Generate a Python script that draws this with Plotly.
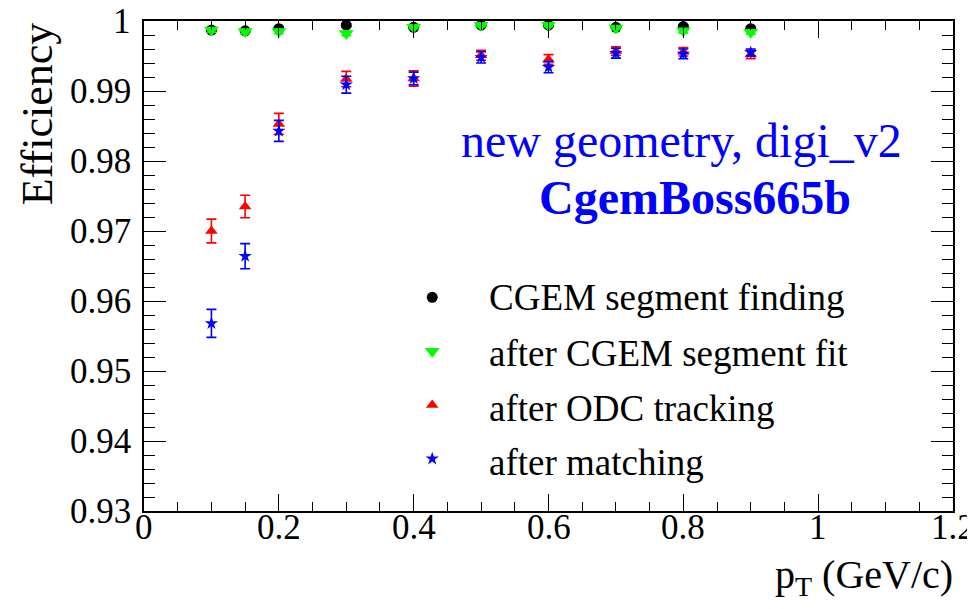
import plotly.graph_objects as go

pt = [0.1, 0.15, 0.2, 0.3, 0.4, 0.5, 0.6, 0.7, 0.8, 0.9]

seg_find = [0.9987, 0.9986, 0.9989, 0.9994, 0.9991, 0.9994, 0.9994, 0.9991, 0.9992, 0.9989]
seg_find_err = [0.0002, 0.0002, 0.0002, 0.0002, 0.0002, 0.0002, 0.0002, 0.0002, 0.0002, 0.0002]

seg_fit = [0.9987, 0.9985, 0.9985, 0.9982, 0.9991, 0.9994, 0.9994, 0.9990, 0.9986, 0.9984]
seg_fit_err = [0.0003, 0.0003, 0.0003, 0.0003, 0.0002, 0.0002, 0.0002, 0.0002, 0.0003, 0.0003]

odc = [0.9700, 0.9735, 0.9853, 0.9917, 0.9918, 0.9951, 0.9945, 0.9957, 0.9956, 0.9952]
odc_err = [0.0017, 0.0016, 0.0015, 0.0011, 0.0011, 0.0007, 0.0007, 0.0006, 0.0006, 0.0006]

match = [0.9568, 0.9664, 0.9843, 0.9909, 0.9918, 0.9948, 0.9934, 0.9954, 0.9953, 0.9955]
match_err = [0.0020, 0.0018, 0.0015, 0.0012, 0.0009, 0.0008, 0.0008, 0.0007, 0.0007, 0.0005]

x_tickvals = [0, 0.2, 0.4, 0.6, 0.8, 1.0, 1.2]
x_ticklabels = ["0", "0.2", "0.4", "0.6", "0.8", "1", "1.2"]
y_tickvals = [0.93, 0.94, 0.95, 0.96, 0.97, 0.98, 0.99, 1.0]
y_ticklabels = ["0.93", "0.94", "0.95", "0.96", "0.97", "0.98", "0.99", "1"]

names = ["CGEM segment finding", "after CGEM segment fit", "after ODC tracking", "after matching"]
colors = ["#000000", "#00ff00", "#ff0000", "#0000ff"]
symbols = ["circle", "triangle-down", "triangle-up", "star"]
sizes = [11, 13, 11, 10]
ys = [seg_find, seg_fit, odc, match]
errs = [seg_find_err, seg_fit_err, odc_err, match_err]

FONT = "Liberation Serif"

fig = go.Figure()
for i in range(4):
    fig.add_trace(go.Scatter(
        x=pt, y=ys[i], mode="markers", name=names[i], showlegend=False,
        marker=dict(symbol=symbols[i], color=colors[i], size=sizes[i], line=dict(width=0)),
        error_y=dict(type="data", array=errs[i], color=colors[i], thickness=1.6, width=5),
        cliponaxis=False,
    ))
# legend symbols (entry texts are drawn as annotations so they keep the serif face)
for i in range(4):
    fig.add_trace(go.Scatter(
        x=[None], y=[None], mode="markers", name=" ", legendgroup=f"g{i}", showlegend=True,
        marker=dict(symbol=symbols[i], color=colors[i], size=sizes[i], line=dict(width=0)),
        hoverinfo="skip",
    ))

# page body has an 8px margin, so margins are offset to place the frame correctly
fig.update_layout(
    template="none",
    width=975, height=609,
    margin=dict(l=135.5, r=30, t=13, b=106),
    paper_bgcolor="white", plot_bgcolor="white",
    font=dict(family=FONT, color="black", size=34),
    showlegend=True,
    legend=dict(
        x=0.292, y=0.497, xanchor="left", yanchor="top",
        font=dict(family=FONT, size=36, color="black"),
        bgcolor="rgba(0,0,0,0)", itemwidth=94, tracegroupgap=4,
        itemsizing="trace",
    ),
)

fig.update_xaxes(
    range=[0, 1.2], tickmode="array", tickvals=x_tickvals, showticklabels=False,
    automargin=False, showgrid=False, zeroline=False,
    showline=True, linecolor="black", linewidth=1.6, mirror="ticks",
    ticks="inside", ticklen=17, tickwidth=1.4, tickcolor="black",
    minor=dict(tick0=0, dtick=0.05, ticks="inside", ticklen=9, tickwidth=1.4, tickcolor="black", showgrid=False),
)
fig.update_yaxes(
    range=[0.93, 1.0], tickmode="array", tickvals=y_tickvals, showticklabels=False,
    automargin=False, showgrid=False, zeroline=False,
    showline=True, linecolor="black", linewidth=1.6, mirror="ticks",
    ticks="inside", ticklen=22, tickwidth=1.4, tickcolor="black",
    minor=dict(tick0=0.93, dtick=0.002, ticks="inside", ticklen=11, tickwidth=1.4, tickcolor="black", showgrid=False),
)

TICKFONT = dict(family=FONT, size=35, color="black")
for v, t in zip(x_tickvals, x_ticklabels):
    fig.add_annotation(text=t, x=v, xref="x", y=0, yref="paper", xanchor="center", yanchor="top",
                       yshift=5, showarrow=False, font=TICKFONT)
for v, t in zip(y_tickvals, y_ticklabels):
    fig.add_annotation(text=t, x=0, xref="paper", y=v, yref="y", xanchor="right", yanchor="middle",
                       xshift=-11, showarrow=False, font=TICKFONT)

legend_text_y = [0.4347, 0.3224, 0.2102, 0.1]
for t, yy in zip(names, legend_text_y):
    fig.add_annotation(text=t, x=0.4243, xref="paper", y=yy, yref="paper", xanchor="left", yanchor="middle",
                       showarrow=False, font=dict(family=FONT, size=37, color="black"))

fig.add_annotation(text="Efficiency", xref="paper", yref="paper", x=-0.132, y=1.0,
                   xanchor="center", yanchor="top", textangle=-90, showarrow=False,
                   font=dict(family=FONT, size=44, color="black"))
fig.add_annotation(text="p<sub>T</sub> (GeV/c)", xref="paper", yref="paper", x=1.003, y=-0.135,
                   xanchor="right", yanchor="middle", showarrow=False,
                   font=dict(family=FONT, size=40, color="black"))
fig.add_annotation(text="new geometry, digi_v2", xref="paper", yref="paper", x=0.664, y=0.757,
                   xanchor="center", yanchor="middle", showarrow=False,
                   font=dict(family=FONT, size=48, color="#0000ff"))
fig.add_annotation(text="<b>CgemBoss665b</b>", xref="paper", yref="paper", x=0.681, y=0.639,
                   xanchor="center", yanchor="middle", showarrow=False,
                   font=dict(family=FONT, size=48, color="#0000ff"))

fig.write_html("out.html")
